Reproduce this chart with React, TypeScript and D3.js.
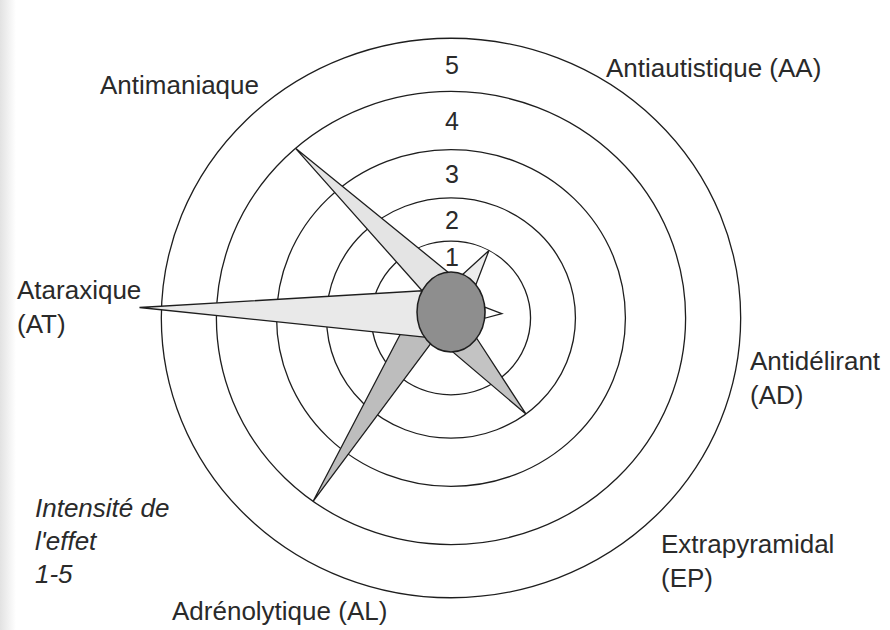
import React, { useRef, useEffect } from "react";
import * as d3 from "d3";

// effect profile (intensity 1-5) per axis
const categories = ["Antiautistique (AA)", "Antidélirant (AD)", "Extrapyramidal (EP)", "Adrénolytique (AL)", "Ataraxique (AT)", "Antimaniaque"];
const intensities = [1, 0.5, 2, 4, 5.4, 4];
const ringValues = [1, 2, 3, 4, 5];
const ringLabels = ["1", "2", "3", "4", "5"];
const labelLines = [["Antiautistique (AA)"], ["Antidélirant", "(AD)"], ["Extrapyramidal", "(EP)"], ["Adrénolytique (AL)"], ["Ataraxique", "(AT)"], ["Antimaniaque"]];
const noteLines = ["Intensité de", "l'effet", "1-5"];

// layout
const W = 890, H = 630;
const cx = 451, cy = 318;
const kx = 1.02, ky = 0.985; // the scan is slightly wider than tall
const core = { cx: 451, cy: 312, rx: 34, ry: 40 };
const spokeAngles = [28.5, 85, 143, 216, 272, 318.5];
const spikeBase = [[20, 47], [83, 99], [131, 177], [217, 290], [231, 302], [302, 355]];
const spikeFill = ["#ededed", "#ffffff", "#c3c3c3", "#bdbdbd", "#e9e9e9", "#e4e4e4"];
const drawOrder = [3, 2, 1, 0, 5, 4];
const labelPos = [[606, 77], [750, 370], [661, 553], [172, 620], [17, 299], [100, 94]];
const font = "'Liberation Sans', Arial, Helvetica, sans-serif";
const ink = "#1e1e1e";

const App = () => {
    const svgRef = useRef<SVGSVGElement>(null);

    useEffect(() => {
        const svg = d3.select(svgRef.current);
        svg.selectAll("*").remove();

        const rScale = d3.scaleLinear()
            .domain([0, 1, 2, 3, 4, 5])
            .range([22, 78, 122, 171, 230, 284]);

        const angleScale = d3.scaleOrdinal<string, number>()
            .domain(categories)
            .range(spokeAngles);

        const rad = (deg: number) => (deg * Math.PI) / 180;
        const polar = (deg: number, r: number): [number, number] =>
            [cx + kx * r * Math.sin(rad(deg)), cy - ky * r * Math.cos(rad(deg))];
        const onCore = (deg: number): [number, number] =>
            [core.cx + core.rx * Math.sin(rad(deg)), core.cy - core.ry * Math.cos(rad(deg))];

        // scan shading on the left edge
        const defs = svg.append("defs");
        const grad = defs.append("linearGradient").attr("id", "edge").attr("x1", 0).attr("x2", 1);
        grad.append("stop").attr("offset", 0).attr("stop-color", "#e2e2e2");
        grad.append("stop").attr("offset", 1).attr("stop-color", "#ffffff");
        svg.append("rect").attr("width", W).attr("height", H).attr("fill", "#fff");
        svg.append("rect").attr("width", 16).attr("height", H).attr("fill", "url(#edge)");

        // rings
        svg.append("g")
            .selectAll("ellipse")
            .data(ringValues)
            .join("ellipse")
            .attr("cx", cx)
            .attr("cy", cy)
            .attr("rx", d => rScale(d) * kx)
            .attr("ry", d => rScale(d) * ky)
            .attr("fill", "none")
            .attr("stroke", ink)
            .attr("stroke-width", 1.3);

        // spikes
        const spike = d3.line().curve(d3.curveLinearClosed);
        svg.append("g")
            .selectAll("path")
            .data(drawOrder)
            .join("path")
            .attr("d", i => spike([
                onCore(spikeBase[i][0]),
                polar(angleScale(categories[i]), rScale(intensities[i])),
                onCore(spikeBase[i][1]),
            ]))
            .attr("fill", i => spikeFill[i])
            .attr("stroke", ink)
            .attr("stroke-width", 1.3)
            .attr("stroke-linejoin", "miter");

        // central core
        svg.append("ellipse")
            .attr("cx", core.cx)
            .attr("cy", core.cy)
            .attr("rx", core.rx)
            .attr("ry", core.ry)
            .attr("fill", "#8e8e8e")
            .attr("stroke", ink)
            .attr("stroke-width", 1.5);

        // ring numbers, halfway between a ring and the one inside it
        const coreTop = cy - (core.cy - core.ry);
        svg.append("g")
            .selectAll("text")
            .data(ringValues)
            .join("text")
            .attr("x", cx + 1)
            .attr("y", (d) => {
                const outer = rScale(d) * ky;
                const inner = d === 1 ? coreTop : rScale(d - 1) * ky;
                return cy - (outer + inner) / 2;
            })
            .attr("text-anchor", "middle")
            .attr("dominant-baseline", "central")
            .style("font-family", font)
            .style("font-size", "25px")
            .attr("fill", "#2a2a2a")
            .text((d, i) => ringLabels[i]);

        // axis labels
        const labels = svg.append("g")
            .style("font-family", font)
            .style("font-size", "26px")
            .attr("fill", "#2a2a2a");
        labelLines.forEach((lines, i) => {
            labels.append("text")
                .attr("x", labelPos[i][0])
                .attr("y", labelPos[i][1])
                .selectAll("tspan")
                .data(lines)
                .join("tspan")
                .attr("x", labelPos[i][0])
                .attr("dy", (d, j) => (j === 0 ? 0 : 34))
                .text(d => d);
        });

        // note
        svg.append("text")
            .attr("x", 35)
            .attr("y", 517)
            .style("font-family", font)
            .style("font-size", "26px")
            .style("font-style", "italic")
            .attr("fill", "#2a2a2a")
            .selectAll("tspan")
            .data(noteLines)
            .join("tspan")
            .attr("x", 35)
            .attr("dy", (d, j) => (j === 0 ? 0 : 33))
            .text(d => d);
    }, []);

    return (
        <svg
            ref={svgRef}
            width={W}
            height={H}
            style={{ position: "absolute", left: 0, top: 0, display: "block" }}
        />
    );
};

export default App;
